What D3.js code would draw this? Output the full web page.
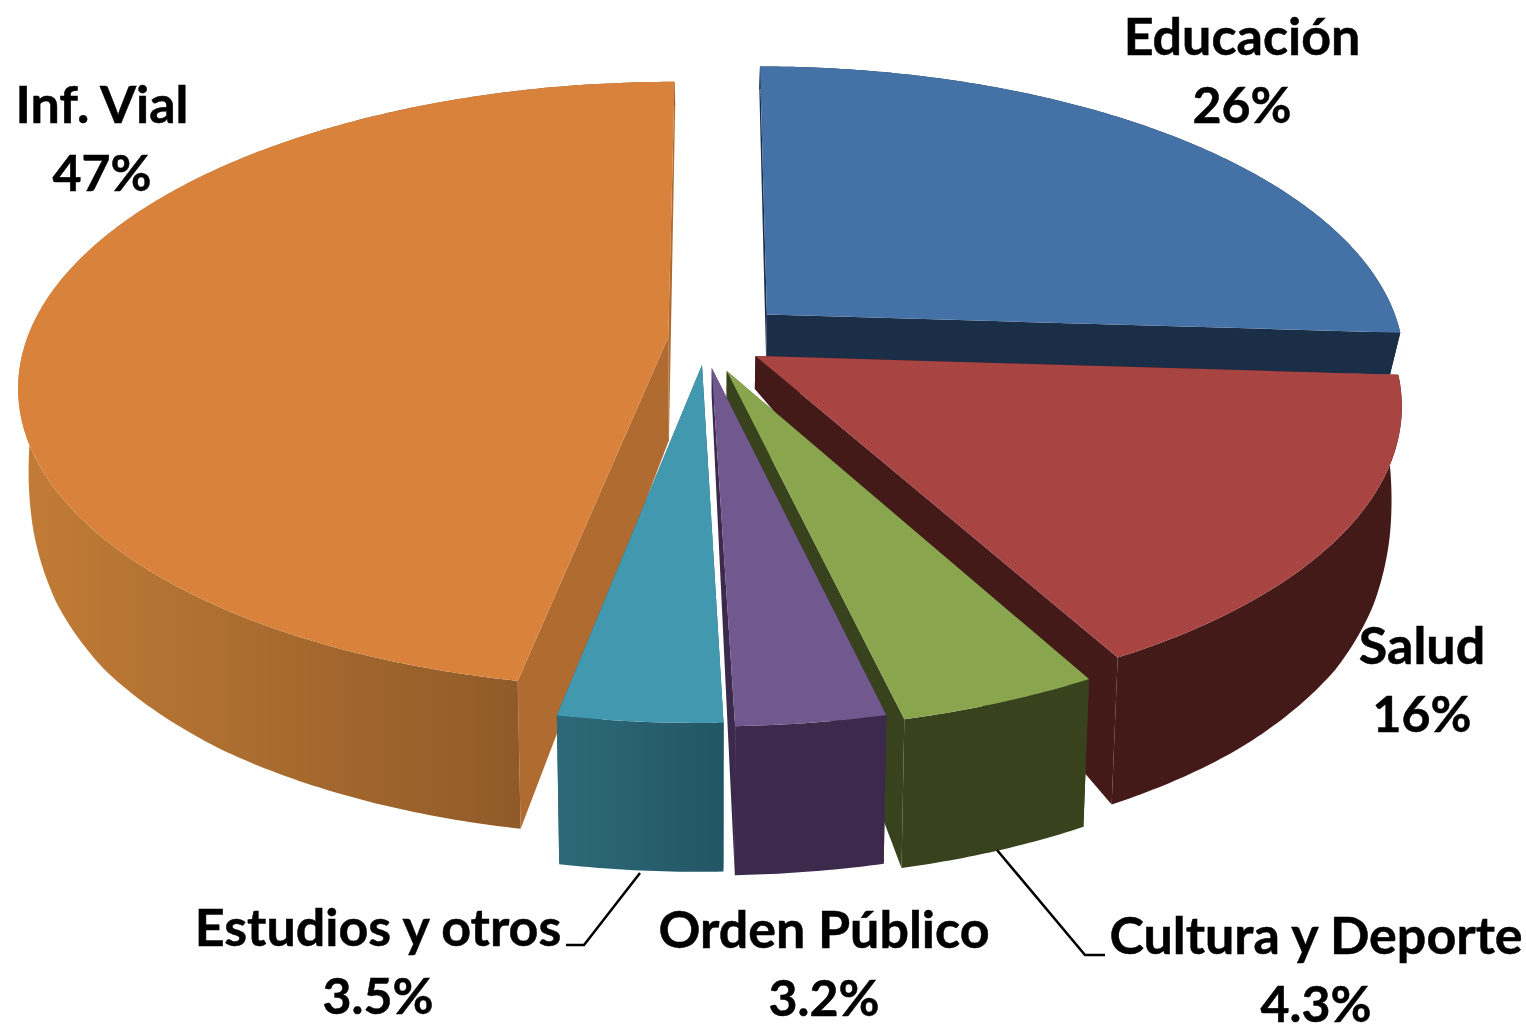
<!DOCTYPE html>
<html>
<head>
<meta charset="utf-8">
<script src="https://cdn.jsdelivr.net/npm/d3@7"></script>
<style>
  html, body { margin: 0; background: #fff; }
  svg { display: block; filter: blur(0.6px); }
  .name, .value { font-family: Lato, "Open Sans", sans-serif; font-weight: bold; fill: #000; stroke: #000; stroke-width: 0.5px; text-anchor: middle; }
  .name { font-size: 52px; }
  .value { font-size: 50px; }
</style>
</head>
<body>
<div id="chart"></div>
<script>
// Values
const categories = ["Educación", "Salud", "Cultura y Deporte", "Orden Público", "Estudios y otros", "Inf. Vial"]
const values = [26, 16, 4.3, 3.2, 3.5, 47]

// Colours of each slice: top, walls
const topColors = ["#4472a7", "#a84442", "#89a54e", "#71588f", "#4198af", "#d9823b"]
const sideColors = ["#1b2e47", "#441a18", "#38431d", "#3b2a4b", "#235866", "#b06c30"]

// How far each slice is pulled out of the pie, its size, and its wall height at the tip
const explodeU = [0.082, 0.0625, 0.018, -0.005, -0.02, -0.073]
const explodeV = [-0.07, 0.07, 0.12, 0.11, 0.1, 0.008]
const sliceScale = [0.992, 0.985, 0.988, 0.988, 0.99, 1]
const tipWall = [45, 33, 34, 30, 24, 103]

// Label anchors
const labelX = [1242, 1422, 1316, 824, 378, 102]
const labelY = [55, 664, 954, 948, 946, 123]

const width = 1526
const height = 1024
const cx = 715
const cy = 335
const radiusX = 640
const radiusY = 295
const persp = 0.157
const bottomShrink = 0.985

// Wall height grows towards the viewer
const outerWall = d3.scaleLinear()
    .domain([-1.2, 0, 0.15, 0.3, 0.45, 0.6, 0.8, 1, 1.2])
    .range([20, 42, 78, 106, 126, 138, 145, 148, 150])

const svg = d3.select("#chart")
    .append("svg")
    .attr("width", width)
    .attr("height", height)

// Shaded walls
const defs = svg.append("defs")
function addGradient(id, x1, x2, from, to) {
    const g = defs.append("linearGradient")
        .attr("id", id)
        .attr("gradientUnits", "userSpaceOnUse")
        .attr("x1", x1).attr("x2", x2)
        .attr("y1", 0).attr("y2", 0)
    g.append("stop").attr("offset", 0).attr("stop-color", from)
    g.append("stop").attr("offset", 1).attr("stop-color", to)
}
addGradient("wallOrange", 20, 524, "#c27c36", "#8f5a28")
addGradient("wallTeal", 556, 722, "#2d6a79", "#235664")

const pie = d3.pie().sort(null).value(d => d)
const slices = pie(values)

// Project a point of the pie's top face to the screen
function project(i, angle, r) {
    const u = r * sliceScale[i] * Math.sin(angle) + explodeU[i]
    const v = -r * sliceScale[i] * Math.cos(angle) + explodeV[i]
    const w = 1 - persp * v
    return { x: cx + radiusX * u / w, y: cy + radiusY * v / w, v: v }
}

function bottomOf(p, wall) {
    return [cx + (p.x - cx) * bottomShrink, p.y + wall]
}

const line = d3.line()

function arcPoints(i, a0, a1) {
    const n = Math.ceil((a1 - a0) / 0.01)
    return d3.range(n + 1).map(k => project(i, a0 + (a1 - a0) * k / n, 1))
}

function drawSlice(i) {
    const s = slices[i]
    const arc = arcPoints(i, s.startAngle, s.endAngle)
    const tip = project(i, 0, 0)
    const tipBottom = bottomOf(tip, tipWall[i])
    const g = svg.append("g").attr("class", "slice")
    const wallFill = i === 5 ? "url(#wallOrange)" : i === 4 ? "url(#wallTeal)" : sideColors[i]

    // Cut faces
    const ends = [arc[0], arc[arc.length - 1]]
    ends.forEach(e => {
        g.append("path")
            .attr("d", line([[tip.x, tip.y], [e.x, e.y], bottomOf(e, outerWall(e.v)), tipBottom]) + "Z")
            .attr("fill", sideColors[i])
    })

    // Outer wall
    const upper = arc.map(p => [p.x, p.y])
    const lower = arc.map(p => bottomOf(p, outerWall(p.v))).reverse()
    g.append("path")
        .attr("d", line(upper.concat(lower)) + "Z")
        .attr("fill", wallFill)

    // Top face
    g.append("path")
        .attr("d", line([[tip.x, tip.y]].concat(upper)) + "Z")
        .attr("fill", topColors[i])
}

// Back to front
const drawOrder = [5, 0, 1, 2, 3, 4]
drawOrder.forEach(drawSlice)

// Leader lines
const leaderEstudios = [[640, 873], [584, 945], [566, 945]]
const leaderCultura = [[997, 850], [1085, 955], [1105, 955]]
;[leaderEstudios, leaderCultura].forEach(pts => {
    svg.append("path")
        .attr("d", line(pts))
        .attr("fill", "none")
        .attr("stroke", "#000")
        .attr("stroke-width", 2.5)
})

// Labels, name above value
categories.forEach((name, i) => {
    svg.append("text").attr("class", "name")
        .attr("x", labelX[i]).attr("y", labelY[i])
        .text(name)
    svg.append("text").attr("class", "value")
        .attr("x", labelX[i]).attr("y", labelY[i] + 68)
        .text(values[i] + "%")
})
</script>
</body>
</html>
